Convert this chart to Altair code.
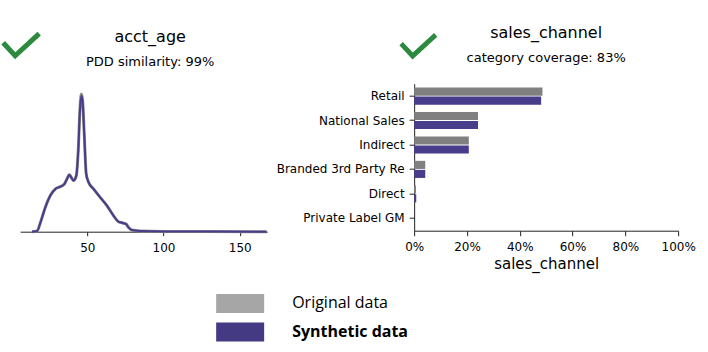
import altair as alt
import pandas as pd

# ---------------- data ----------------
age_values = [13.8, 17.1, 19.3, 22.5, 25.8, 29.1, 32.4, 35.0, 36.7, 38.2, 39.5, 41.0,
              42.8, 44.1, 45.2, 46.1, 46.9, 48.0, 49.3, 50.9, 54.1, 58.5, 62.9, 67.2,
              70.5, 73.3, 75.5, 77.0, 79.2, 84.6, 100.0, 167.6]
orig_density = [0.0, 0.0003, 0.0040, 0.0106, 0.0157, 0.0186, 0.0196, 0.0207, 0.0229,
                0.0247, 0.0236, 0.0222, 0.0243, 0.0355, 0.0532, 0.0598, 0.0575, 0.0428,
                0.0252, 0.0214, 0.0186, 0.0149, 0.0113, 0.0070, 0.0043, 0.0038, 0.0033,
                0.0019, 0.0007, 0.0003, 0.0001, 0.0]
synth_density = [0.0, 0.0003, 0.0040, 0.0106, 0.0157, 0.0186, 0.0196, 0.0207, 0.0229,
                 0.0247, 0.0236, 0.0222, 0.0243, 0.0352, 0.0526, 0.0591, 0.0570, 0.0426,
                 0.0252, 0.0214, 0.0186, 0.0149, 0.0113, 0.0070, 0.0043, 0.0038, 0.0033,
                 0.0019, 0.0007, 0.0003, 0.0001, 0.0]

channels = ["Retail", "National Sales", "Indirect", "Branded 3rd Party Re", "Direct",
            "Private Label GM"]
orig_share = [0.486, 0.242, 0.207, 0.042, 0.007, 0.0]
synth_share = [0.481, 0.242, 0.207, 0.042, 0.008, 0.0]

datasets = ["Original data", "Synthetic data"]
pct_ticks = [0, 0.2, 0.4, 0.6, 0.8, 1.0]
age_ticks = [50, 100, 150]

titles = ["acct_age", "sales_channel"]
subtitles = ["PDD similarity: 99%", "category coverage: 83%"]

# ---------------- styles ----------------
FONT = "DejaVu Sans"
GREEN = "#2b8a3e"
GRAY_LINE = "#8c8c8c"
PURPLE = "#483d8b"
GRAY_BAR = "#808080"
AXIS_COLOR = "#222222"
# check-mark glyph drawn as a filled outline
CHECK_PATH = ("M-0.808,-0.185L-0.2925,0.373L0.8155,-0.642L0.9845,-0.458"
              "L-0.3075,0.727L-0.992,-0.015Z")

dens_orig = pd.DataFrame({"acct_age": age_values, "density": orig_density})
dens_synth = pd.DataFrame({"acct_age": age_values, "density": synth_density})

bar_df = pd.DataFrame({
    "channel": channels * 2,
    "dataset": [datasets[0]] * len(channels) + [datasets[1]] * len(channels),
    "share": orig_share + synth_share,
})
legend_df = pd.DataFrame({"dataset": datasets})
one = pd.DataFrame({"k": [0]})


def title_layers(title, subtitle, cx, ty, sy):
    t = alt.Chart(one).mark_text(
        text=title, font=FONT, fontSize=16, color="black", align="center",
        baseline="alphabetic").encode(x=alt.value(cx), y=alt.value(ty))
    s = alt.Chart(one).mark_text(
        text=subtitle, font=FONT, fontSize=13, color="black", align="center",
        baseline="alphabetic").encode(x=alt.value(cx), y=alt.value(sy))
    return [t, s]


def check(cx, cy, size):
    return alt.Chart(one).mark_point(
        shape=CHECK_PATH, filled=True, size=size, color=GREEN, opacity=1,
        strokeWidth=0).encode(x=alt.value(cx), y=alt.value(cy))


# ---------------- left: density ----------------
x_age = alt.X("acct_age:Q",
              scale=alt.Scale(domain=[6, 168], nice=False, zero=False),
              axis=alt.Axis(values=age_ticks, title=None, grid=False, tickSize=4,
                            labelFontSize=12, labelFont=FONT, labelColor="black",
                            labelPadding=7, domainColor=AXIS_COLOR, tickColor=AXIS_COLOR))
y_dens = alt.Y("density:Q", scale=alt.Scale(domain=[0, 0.0643], nice=False), axis=None)

line_orig = alt.Chart(dens_orig).mark_line(
    interpolate="monotone", strokeWidth=3, color=GRAY_LINE
).encode(x=x_age, y=y_dens)
line_synth = alt.Chart(dens_synth).mark_line(
    interpolate="monotone", strokeWidth=2, color=PURPLE
).encode(x="acct_age:Q", y="density:Q")

left = alt.layer(
    line_orig, line_synth, check(1, -39, 1600),
    *title_layers(titles[0], subtitles[0], 130, -41.3, -18),
).properties(width=247, height=148)

# ---------------- right: bars ----------------
bars = alt.Chart(bar_df).mark_bar().encode(
    y=alt.Y("channel:N", sort=channels,
            scale=alt.Scale(paddingInner=0.3, paddingOuter=0.16),
            axis=alt.Axis(title=None, tickSize=5, labelFontSize=12, labelFont=FONT,
                          labelColor="black", labelPadding=5, domainColor=AXIS_COLOR,
                          tickColor=AXIS_COLOR, labelLimit=300)),
    yOffset=alt.YOffset("dataset:N", sort=datasets, scale=alt.Scale(paddingInner=0.1)),
    x=alt.X("share:Q", scale=alt.Scale(domain=[0, 1], nice=False),
            axis=alt.Axis(values=pct_ticks, format=".0%", title="sales_channel",
                          grid=False, tickSize=5, labelFontSize=12, labelFont=FONT,
                          labelColor="black", labelPadding=6, titleFont=FONT,
                          titleFontSize=15, titleFontWeight="normal", titleColor="black",
                          titlePadding=3.5, domainColor=AXIS_COLOR, tickColor=AXIS_COLOR,
                          labelFlush=False)),
    color=alt.Color("dataset:N", scale=alt.Scale(domain=datasets, range=[GRAY_BAR, PURPLE]),
                    legend=None),
)

right = alt.layer(
    bars, check(4.25, -38.25, 1475),
    *title_layers(titles[1], subtitles[1], 132, -45.3, -21.3),
).properties(width=264, height=147)

# ---------------- custom legend ----------------
leg_y = alt.Y("dataset:N", sort=datasets,
              scale=alt.Scale(paddingInner=0.33, paddingOuter=0.15), axis=None)
leg_rect = alt.Chart(legend_df).mark_rect().encode(
    y=leg_y,
    x=alt.value(196), x2=alt.value(244),
    color=alt.Color("dataset:N", scale=alt.Scale(domain=datasets,
                                                 range=["#a6a6a6", "#443983"]),
                    legend=None),
)
leg_text_orig = alt.Chart(legend_df).transform_filter(
    alt.datum.dataset == datasets[0]
).mark_text(align="left", baseline="alphabetic", dy=5, font="Open Sans",
            fontSize=16, color="black").encode(
    y=alt.Y("dataset:N", sort=datasets), x=alt.value(272), text="dataset:N")
leg_text_synth = alt.Chart(legend_df).transform_filter(
    alt.datum.dataset == datasets[1]
).mark_text(align="left", baseline="alphabetic", dy=5, font="Open Sans",
            fontSize=16, fontWeight="bold", color="black").encode(
    y=alt.Y("dataset:N", sort=datasets), x=alt.value(272), text="dataset:N")

legend = alt.layer(leg_rect, leg_text_orig, leg_text_synth).properties(width=247, height=56)

chart = alt.concat(
    left, right, legend, columns=2,
    spacing=alt.RowColnumber(row=58, column=147),
    bounds="flush", align="each",
).resolve_scale(color="independent").properties(
    padding={"left": 1.16, "top": 24.7, "right": 4, "bottom": 4},
    background="white",
).configure_view(stroke=None)

chart.save("out.html", embed_options={"renderer": "svg", "actions": False})
